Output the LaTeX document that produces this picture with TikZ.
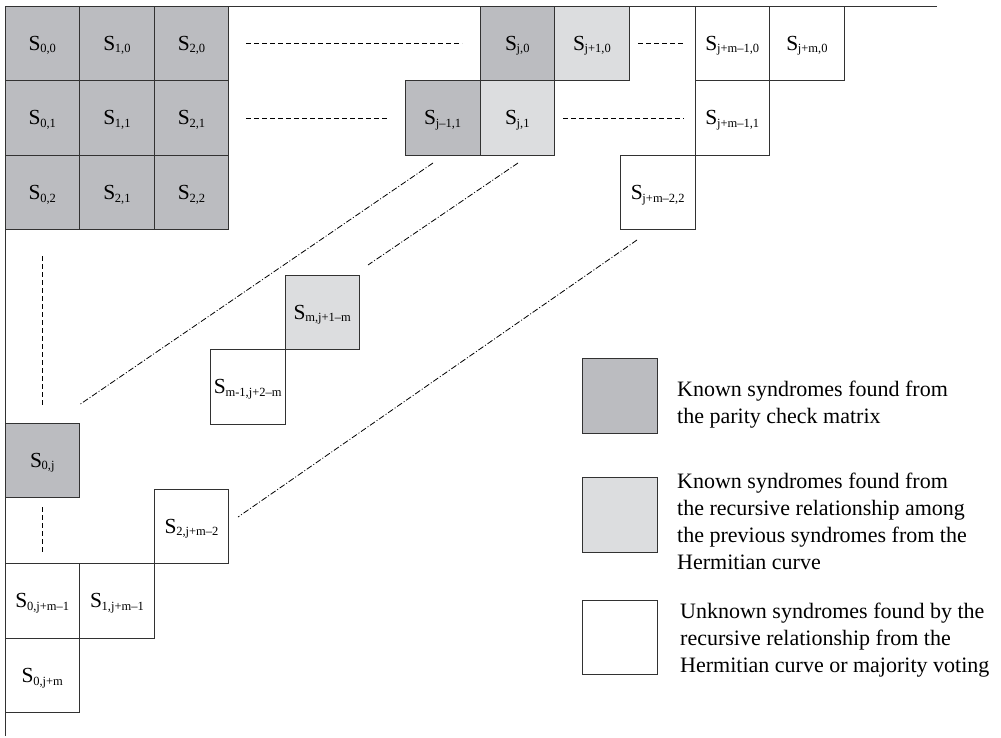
\documentclass[tikz,border=0pt]{standalone}
\usepackage{fontspec}
\setmainfont{Liberation Serif}
\definecolor{darkfill}{RGB}{187,188,192}
\definecolor{lightfill}{RGB}{220,221,223}
\definecolor{edge}{RGB}{50,50,50}
% syndrome label: S with a lowered index that does not change the box size
\newcommand\syn[1]{S\kern-0.3pt\raisebox{-2.5pt}[0pt][0pt]{\fontsize{12.5}{12.5}\selectfont #1}}
\begin{document}
\begin{tikzpicture}[x=1pt,y=-1pt,
  cell/.style={draw=edge, line width=0.8pt, minimum width=74.6pt, minimum height=74.6pt,
    inner sep=0pt, outer sep=0pt, font=\fontsize{21.5}{21.5}\selectfont},
  known/.style={cell, fill=darkfill},
  derived/.style={cell, fill=lightfill},
  unknown/.style={cell, fill=white},
  gap/.style={line width=0.8pt, dash pattern=on 5pt off 3pt},
  diag/.style={line width=0.8pt, dash pattern=on 6pt off 2pt on 1pt off 2pt},
  legendtext/.style={anchor=north west, align=left, inner sep=0pt,
    font=\fontsize{22}{27}\selectfont}
]
\useasboundingbox (0,0) rectangle (1001,737);

% matrix axes
\coordinate (o) at (5,6);
\coordinate (xend) at (937,6);
\coordinate (yend) at (5,736);
\draw[line width=0.9pt, edge] (xend) -- (o) -- (yend);

% known block in the corner
\node[known] (s00) at (42.3,43.3) {\syn{0,0}};
\node[known] (s10) at (116.9,43.3) {\syn{1,0}};
\node[known] (s20) at (191.5,43.3) {\syn{2,0}};
\node[known] (s01) at (42.3,117.9) {\syn{0,1}};
\node[known] (s11) at (116.9,117.9) {\syn{1,1}};
\node[known] (s21) at (191.5,117.9) {\syn{2,1}};
\node[known] (s02) at (42.3,192.5) {\syn{0,2}};
\node[known] (s12) at (116.9,192.5) {\syn{2,1}};
\node[known] (s22) at (191.5,192.5) {\syn{2,2}};

% first rows, further along
\node[known]   (sj0)   at (517.3,43.3) {\syn{j,0}};
\node[derived] (sj10)  at (591.9,43.3) {\syn{j+1,0}};
\node[unknown] (sjm10) at (732.3,43.3) {\syn{j+m–1,0}};
\node[unknown] (sjm0)  at (806.9,43.3) {\syn{j+m,0}};
\node[known]   (sjm11) at (442.7,117.9) {\syn{j–1,1}};
\node[derived] (sj1)   at (517.3,117.9) {\syn{j,1}};
\node[unknown] (sjm1)  at (732.3,117.9) {\syn{j+m–1,1}};
\node[unknown] (sjm2)  at (657.7,192.5) {\syn{j+m–2,2}};

% middle of the anti-diagonal
\node[derived] (smj) at (322.3,312.3) {\syn{m,j+1–m}};
\node[unknown] (sm1j) at (247.7,386.9) {\syn{m-1,j+2–m}};

% first columns, further down
\node[known]   (s0j)   at (42.3,460.3) {\syn{0,j}};
\node[unknown] (s2jm)  at (191.5,526.3) {\syn{2,j+m–2}};
\node[unknown] (s0jm1) at (42.3,600.9) {\syn{0,j+m–1}};
\node[unknown] (s1jm1) at (116.9,600.9) {\syn{1,j+m–1}};
\node[unknown] (s0jm)  at (42.3,675.5) {\syn{0,j+m}};

% omitted entries along rows and columns
\coordinate (r0a) at (246,43.3);  \coordinate (r0b) at (462,43.3);
\coordinate (r0c) at (638,43.3);  \coordinate (r0d) at (684,43.3);
\coordinate (r1a) at (246,117.9); \coordinate (r1b) at (388,117.9);
\coordinate (r1c) at (563,117.9); \coordinate (r1d) at (684,117.9);
\coordinate (c0a) at (42.3,256);  \coordinate (c0b) at (42.3,405);
\coordinate (c0c) at (42.3,507);  \coordinate (c0d) at (42.3,553);
\draw[gap] (r0a) -- (r0b);
\draw[gap] (r0c) -- (r0d);
\draw[gap] (r1a) -- (r1b);
\draw[gap] (r1c) -- (r1d);
\draw[gap] (c0a) -- (c0b);
\draw[gap] (c0c) -- (c0d);

% omitted anti-diagonals
\coordinate (d1a) at (433,163); \coordinate (d1b) at (79,405);
\coordinate (d2a) at (518,163); \coordinate (d2b) at (368,265);
\coordinate (d3a) at (637,240); \coordinate (d3b) at (238,517);
\draw[diag] (d1a) -- (d1b);
\draw[diag] (d2a) -- (d2b);
\draw[diag] (d3a) -- (d3b);

% legend
\node[known]   (lk) at (620,396) {};
\node[derived] (lr) at (620,515) {};
\node[unknown] (lu) at (620,637.5) {};
\node[legendtext] (tk) at (677,380.5) {Known syndromes found from\\the parity check matrix};
\node[legendtext] (tr) at (677,473) {Known syndromes found from\\the recursive relationship among\\the previous syndromes from the\\Hermitian curve};
\node[legendtext] (tu) at (680,602.5) {Unknown syndromes found by the\\recursive relationship from the\\Hermitian curve or majority voting};
\end{tikzpicture}
\end{document}
